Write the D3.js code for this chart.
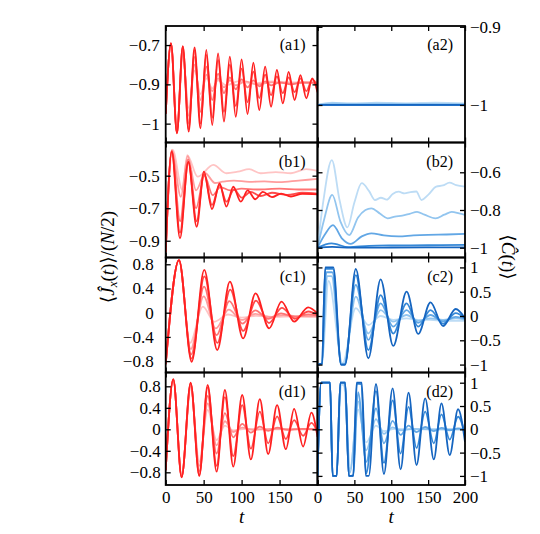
<!DOCTYPE html>
<html>
<head>
<meta charset="utf-8">
<script src="https://d3js.org/d3.v7.min.js"></script>
<style>
  body { margin: 0; background: #fff; }
</style>
</head>
<body>
<svg id="chart" width="540" height="534"></svg>
<script>
const serif = "'Liberation Serif', 'DejaVu Serif', serif";

// time axis
const timeDomain = [0, 200];
const timeTicks = [0, 50, 100, 150, 200];
const leftTimeLabels = ["0", "50", "100", "150", ""];
const rightTimeLabels = ["0", "50", "100", "150", "200"];

// y ticks per panel
const a1Ticks = [-0.7, -0.9, -1.1];
const a1TickLabels = ["\u22120.7", "\u22120.9", "\u22121"];
const a2Ticks = [-0.9, -1];
const a2TickLabels = ["\u22120.9", "\u22121"];
const b1Ticks = [-0.5, -0.7, -0.9];
const b1TickLabels = ["\u22120.5", "\u22120.7", "\u22120.9"];
const b2Ticks = [-0.6, -0.8, -1];
const b2TickLabels = ["\u22120.6", "\u22120.8", "\u22121"];
const jTicks = [0.8, 0.4, 0, -0.4, -0.8];
const jTickLabels = ["0.8", "0.4", "0", "\u22120.4", "\u22120.8"];
const cTicks = [1, 0.5, 0, -0.5, -1];
const cTickLabels = ["1", "0.5", "0", "\u22120.5", "\u22121"];

// curves, lightest first, darkest last; points are [t, value]
const a1Curves = [
  [[0,-1.05],[7,-0.691],[14.8,-1.13],[22.5,-0.75],[30.3,-1.02],[38,-0.83],[45.8,-0.95],[53.5,-0.87],[61.3,-0.92],[69,-0.88],[80,-0.905],[95,-0.885],[115,-0.895],[140,-0.885],[170,-0.89],[200,-0.885]],
  [[0,-1.05],[7,-0.691],[14.8,-1.14],[22.5,-0.73],[30.3,-1.06],[38,-0.8],[45.8,-0.98],[53.5,-0.85],[61.3,-0.935],[69,-0.87],[76.8,-0.915],[84.5,-0.88],[92.3,-0.905],[105,-0.885],[120,-0.9],[140,-0.89],[165,-0.895],[200,-0.89]],
  [[0,-1.05],[7,-0.691],[14.8,-1.145],[22.5,-0.715],[30.3,-1.1],[38,-0.76],[45.8,-1.04],[53.5,-0.81],[61.3,-0.98],[69,-0.845],[76.8,-0.945],[84.5,-0.865],[92.3,-0.925],[100,-0.875],[107.8,-0.915],[115.5,-0.88],[123.3,-0.91],[131,-0.885],[138.8,-0.905],[150,-0.89],[165,-0.9],[180,-0.89],[200,-0.895]],
  [[0,-1.05],[7,-0.691],[14.8,-1.149],[22.5,-0.707],[30.3,-1.13],[38,-0.725],[45.8,-1.1],[53.5,-0.75],[61.3,-1.07],[69,-0.775],[76.8,-1.04],[84.5,-0.8],[92.3,-1.01],[100,-0.82],[107.8,-0.99],[115.5,-0.835],[123.3,-0.97],[131,-0.85],[138.8,-0.955],[146.5,-0.86],[154.3,-0.945],[162,-0.865],[169.8,-0.94],[177.5,-0.87],[185.3,-0.935],[193,-0.875],[200,-0.91]],
  [[0,-1.05],[7,-0.691],[14.8,-1.149],[22.5,-0.705],[30.3,-1.141],[38,-0.712],[45.8,-1.124],[53.5,-0.725],[61.3,-1.107],[69,-0.742],[76.8,-1.09],[84.5,-0.759],[92.3,-1.065],[100,-0.773],[107.8,-1.051],[115.5,-0.79],[123.3,-1.031],[131,-0.81],[138.8,-1.014],[146.5,-0.827],[154.3,-0.997],[162,-0.836],[169.8,-0.98],[177.5,-0.853],[185.3,-0.971],[193,-0.87],[200,-0.94]]
];

const a2Curves = [
  [[0,-1],[20,-0.997],[45,-0.999],[80,-0.997],[120,-0.998],[160,-0.997],[200,-0.998]],
  [[0,-1],[20,-0.998],[200,-0.999]],
  [[0,-1],[200,-1]],
  [[0,-1],[200,-1]],
  [[0,-1],[200,-1]]
];

const b1Curves = [
  [[0,-0.97],[9,-0.34],[22,-0.588],[28.4,-0.373],[42,-0.506],[62.7,-0.434],[80,-0.485],[95,-0.475],[110,-0.46],[125,-0.485],[145,-0.478],[165,-0.485],[185,-0.46],[200,-0.47]],
  [[0,-0.97],[8,-0.345],[20,-0.63],[29,-0.38],[40,-0.59],[52,-0.485],[65,-0.545],[75,-0.537],[90,-0.53],[110,-0.538],[130,-0.535],[150,-0.54],[175,-0.53],[200,-0.52]],
  [[0,-0.97],[8,-0.345],[19,-0.78],[29.5,-0.4],[40,-0.7],[51,-0.5],[62,-0.62],[72,-0.57],[85,-0.59],[100,-0.58],[120,-0.585],[150,-0.58],[175,-0.585],[200,-0.585]],
  [[0,-0.97],[8,-0.35],[18.8,-0.85],[29.8,-0.42],[40.8,-0.78],[50.4,-0.49],[61,-0.68],[71,-0.56],[80,-0.66],[90,-0.585],[100,-0.635],[112,-0.6],[125,-0.625],[140,-0.605],[160,-0.618],[180,-0.605],[200,-0.61]],
  [[0,-0.97],[8,-0.352],[18.8,-0.885],[29.8,-0.414],[40.8,-0.814],[50.4,-0.475],[61,-0.705],[71,-0.548],[80,-0.69],[89,-0.568],[99,-0.66],[108,-0.59],[118,-0.645],[128,-0.6],[140,-0.632],[152,-0.61],[165,-0.628],[180,-0.612],[200,-0.615]]
];

const b2Curves = [
  [[0,-1],[8,-0.75],[19.4,-0.535],[30,-0.75],[40.6,-0.892],[50,-0.76],[60,-0.658],[70,-0.7],[78,-0.747],[86,-0.735],[94,-0.745],[102,-0.715],[110,-0.703],[118,-0.712],[126,-0.705],[134,-0.702],[141,-0.747],[150,-0.72],[161,-0.676],[170,-0.67],[179,-0.655],[188,-0.668],[200,-0.676]],
  [[0,-1],[9,-0.85],[20,-0.72],[31,-0.86],[43,-0.933],[55,-0.84],[65,-0.8],[73,-0.791],[85,-0.82],[95,-0.844],[105,-0.835],[115,-0.83],[125,-0.82],[135,-0.81],[145,-0.825],[160,-0.844],[172,-0.825],[182,-0.81],[192,-0.818],[200,-0.826]],
  [[0,-1],[10,-0.93],[21,-0.88],[33,-0.95],[45,-0.98],[60,-0.94],[73,-0.924],[90,-0.935],[110,-0.94],[130,-0.935],[150,-0.932],[175,-0.93],[200,-0.927]],
  [[0,-1],[19,-0.977],[42,-0.997],[70,-0.99],[100,-0.988],[150,-0.987],[200,-0.985]],
  [[0,-1],[20,-0.996],[45,-1],[100,-0.999],[200,-0.998]]
];

const c1Curves = [
  [[0,-0.85],[17.5,0.87],[32,-0.5],[49,0.1],[64,-0.15],[82,-0.03],[100,-0.08],[120,-0.05],[145,-0.07],[170,-0.06],[200,-0.07]],
  [[0,-0.85],[17.5,0.87],[33,-0.6],[50,0.27],[66,-0.26],[83,0.05],[100,-0.12],[118,-0.02],[136,-0.07],[155,-0.04],[175,-0.06],[200,-0.06]],
  [[0,-0.85],[17.5,0.87],[33.5,-0.69],[50.5,0.43],[67,-0.37],[84,0.19],[101,-0.18],[118,0.04],[135,-0.1],[152,-0.01],[170,-0.07],[188,-0.03],[200,-0.05]],
  [[0,-0.85],[17.5,0.87],[34,-0.76],[51,0.6],[68,-0.5],[85,0.38],[102,-0.3],[119,0.2],[136,-0.17],[153,0.08],[170,-0.1],[188,0.02],[200,-0.04]],
  [[0,-0.85],[17.5,0.87],[34.2,-0.81],[50.8,0.706],[67.9,-0.617],[84.6,0.512],[102,-0.424],[118.4,0.32],[136.3,-0.258],[152.6,0.182],[169.2,-0.149],[187.6,0.089],[200,-0.01]]
];

const c2Curves = [
  [[0,-1],[6,-0.98],[15,0.72],[34,-0.97],[51.9,0.16],[69,-0.185],[85.6,0],[102.7,-0.08],[120.8,-0.05],[136.5,-0.08],[153.2,-0.08],[170.3,-0.1],[187.4,-0.1],[200,-0.1]],
  [[0,-1],[6,-0.98],[13,0.82],[19,0.82],[33,-0.99],[36,-0.99],[51.9,0.4],[69,-0.36],[85.6,0.12],[102.7,-0.117],[120.8,0.02],[136.5,-0.1],[153.2,-0.05],[170.3,-0.08],[187.4,-0.05],[200,-0.08]],
  [[0,-1],[6,-0.98],[12,0.9],[20,0.9],[32.5,-1],[36.5,-1],[51.9,0.64],[69,-0.49],[85.6,0.26],[102.7,-0.22],[120.8,0.12],[136.5,-0.14],[153.2,0.02],[170.3,-0.11],[187.4,-0.02],[200,-0.06]],
  [[0,-1],[6,-0.98],[10.5,0.97],[21,0.97],[32,-1],[37,-1],[51.9,0.84],[69,-0.7],[85.6,0.43],[102.7,-0.36],[120.8,0.26],[136.5,-0.22],[153.2,0.12],[170.3,-0.16],[187.4,0.06],[200,-0.05]],
  [[0,-1],[6,-0.98],[10.5,1],[21.5,1],[32,-1],[37.4,-1],[51.9,0.967],[69,-0.87],[85.6,0.755],[102.7,-0.617],[120.8,0.5],[136.5,-0.37],[153.2,0.28],[170.3,-0.206],[187.4,0.144],[200,-0.05]]
];

const d1Curves = [
  [[0,-0.76],[10,0.93],[21,-0.86],[32.9,0.76],[44.2,-0.6],[55.3,0.36],[67.1,-0.2],[78,0.07],[89,-0.02],[105,0.01],[140,0],[200,0]],
  [[0,-0.76],[10,0.93],[21,-0.87],[32.9,0.8],[44.2,-0.68],[55.3,0.48],[67.1,-0.3],[78,0.15],[89,-0.05],[100.8,0.03],[115,-0.01],[140,0.01],[200,0]],
  [[0,-0.76],[10,0.93],[21,-0.88],[32.9,0.84],[44.2,-0.78],[55.3,0.62],[67.1,-0.45],[78,0.3],[89,-0.15],[100.8,0.1],[112.2,-0.06],[124,0.05],[135,-0.03],[146.8,0.03],[160,-0.01],[180,0.01],[200,0]],
  [[0,-0.76],[10,0.93],[21,-0.89],[32.9,0.86],[44.2,-0.85],[55.3,0.78],[67.1,-0.68],[78,0.6],[89,-0.5],[100.8,0.45],[112.2,-0.36],[124,0.33],[135,-0.26],[146.8,0.24],[158.3,-0.18],[169.2,0.17],[181,-0.12],[192,0.12],[200,-0.05]],
  [[0,-0.76],[10,0.93],[21,-0.893],[32.9,0.867],[44.2,-0.869],[55.3,0.824],[67.1,-0.789],[78,0.731],[89,-0.695],[100.8,0.638],[112.2,-0.56],[124,0.56],[135,-0.46],[146.8,0.45],[158.3,-0.37],[169.2,0.38],[181,-0.32],[192,0.31],[200,-0.14]]
];

const d2Curves = [
  [[0,-1],[5,1],[17,1],[20.5,-1],[26,-1],[32,0.97],[36,0.93],[44,-0.85],[55,0.42],[66,-0.28],[79.3,0.08],[90.1,-0.04],[105,0.01],[140,0],[200,0]],
  [[0,-1],[5,1],[17,1],[20.5,-1],[26,-1],[31,1],[37,0.97],[44,-0.93],[55,0.6],[66,-0.45],[79.3,0.22],[90.1,-0.1],[101.8,0.04],[112.7,-0.02],[130,0.01],[160,0],[200,0]],
  [[0,-1],[5,1],[17,1],[20.5,-1],[26,-1],[31,1],[37.5,1],[42.5,-1],[48.5,-0.98],[55,0.8],[66,-0.7],[79.3,0.45],[90.1,-0.3],[101.8,0.18],[112.7,-0.12],[123.5,0.08],[134.3,-0.06],[146,0.05],[157.7,-0.04],[168.1,0.03],[179.3,-0.02],[190.6,0.02],[200,0]],
  [[0,-1],[5,1],[17,1],[20.5,-1],[26,-1],[31,1],[37.5,1],[42.5,-1],[48.5,-1],[53.5,0.98],[59,0.97],[66,-0.95],[79.3,0.82],[90.1,-0.72],[101.8,0.62],[112.7,-0.52],[123.5,0.48],[134.3,-0.4],[146,0.38],[157.7,-0.3],[168.1,0.32],[179.3,-0.22],[190.6,0.27],[200,-0.1]],
  [[0,-1],[5,1],[17,1],[20.5,-1],[26,-1],[31,1],[37.5,1],[42.5,-1],[48.5,-1],[53,1],[60,1],[65.5,-1],[69.5,-1],[79.3,0.972],[90.1,-0.96],[101.8,0.88],[112.7,-0.858],[123.5,0.785],[134.3,-0.766],[146,0.665],[157.7,-0.644],[168.1,0.558],[179.3,-0.551],[190.6,0.43],[200,-0.27]]
];

const redShades = ["#ffc4c4", "#ff9d9d", "#ff7474", "#ff4a4a", "#ff2020"];
const blueShades = ["#bddcf5", "#92c5ef", "#62a7e5", "#3588d7", "#1565c0"];

// layout
const colX = [[165.7, 317.5], [317.5, 465]];
const rowY = [26, 142.5, 257.5, 372.5, 485];

const panels = [
  {tag: "(a1)", col: 0, row: 0, domain: [-1.196, -0.603], ticks: a1Ticks, labels: a1TickLabels, curves: a1Curves, colors: redShades, pad: 6},
  {tag: "(a2)", col: 1, row: 0, domain: [-1.048, -0.899], ticks: a2Ticks, labels: a2TickLabels, curves: a2Curves, colors: blueShades, pad: 5},
  {tag: "(b1)", col: 0, row: 1, domain: [-1.003, -0.296], ticks: b1Ticks, labels: b1TickLabels, curves: b1Curves, colors: redShades, pad: 6},
  {tag: "(b2)", col: 1, row: 1, domain: [-1.052, -0.442], ticks: b2Ticks, labels: b2TickLabels, curves: b2Curves, colors: blueShades, pad: 5},
  {tag: "(c1)", col: 0, row: 2, domain: [-0.988, 0.912], ticks: jTicks, labels: jTickLabels, curves: c1Curves, colors: redShades, pad: 12},
  {tag: "(c2)", col: 1, row: 2, domain: [-1.163, 1.204], ticks: cTicks, labels: cTickLabels, curves: c2Curves, colors: blueShades, pad: 5},
  {tag: "(d1)", col: 0, row: 3, domain: [-1.036, 1.057], ticks: jTicks, labels: jTickLabels, curves: d1Curves, colors: redShades, pad: 5},
  {tag: "(d2)", col: 1, row: 3, domain: [-1.195, 1.219], ticks: cTicks, labels: cTickLabels, curves: d2Curves, colors: blueShades, pad: 5}
];

const svg = d3.select("#chart");

panels.forEach((p, k) => {
  const [x0, x1] = colX[p.col], y0 = rowY[p.row], y1 = rowY[p.row + 1];
  const w = x1 - x0, h = y1 - y0;
  const x = d3.scaleLinear().domain(timeDomain).range([0, w]);
  const y = d3.scaleLinear().domain(p.domain).range([h, 0]);

  const g = svg.append("g").attr("transform", `translate(${x0},${y0})`);

  g.append("clipPath").attr("id", "clip" + k)
    .append("rect").attr("width", w).attr("height", h);

  const line = d3.line()
      .x(d => x(d[0]))
      .y(d => y(d[1]))
      .curve(d3.curveMonotoneX);

  g.append("g").attr("clip-path", `url(#clip${k})`)
    .selectAll("path")
    .data(p.curves)
    .join("path")
      .attr("d", line)
      .attr("fill", "none")
      .attr("stroke", (d, i) => p.colors[i])
      .attr("stroke-width", 1.8)
      .attr("stroke-linejoin", "round");

  const timeLabels = p.col === 0 ? leftTimeLabels : rightTimeLabels;
  const yLabel = (d, i) => p.labels[i];

  g.append("g")
      .attr("transform", `translate(0,${h})`)
      .call(d3.axisBottom(x).tickValues(timeTicks).tickSize(-5).tickPadding(6)
        .tickFormat((d, i) => p.row === 3 ? timeLabels[i] : ""));
  g.append("g")
      .call(d3.axisTop(x).tickValues(timeTicks).tickSize(-5).tickFormat(""));
  g.append("g")
      .call(d3.axisLeft(y).tickValues(p.ticks).tickSize(-5).tickPadding(p.pad)
        .tickFormat(p.col === 0 ? yLabel : ""));
  g.append("g")
      .attr("transform", `translate(${w},0)`)
      .call(d3.axisRight(y).tickValues(p.ticks).tickSize(-5).tickPadding(p.pad)
        .tickFormat(p.col === 1 ? yLabel : ""));

  g.selectAll(".domain").remove();
  g.selectAll(".tick line").attr("stroke", "#000").attr("stroke-width", 1.3);
  g.selectAll(".tick").attr("font-family", serif);
  g.selectAll(".tick text")
      .attr("font-family", serif)
      .attr("font-size", 17);

  g.append("rect")
      .attr("width", w)
      .attr("height", h)
      .attr("fill", "none")
      .attr("stroke", "#000")
      .attr("stroke-width", 1.8);

  g.append("text")
      .attr("x", w - 12)
      .attr("y", 24)
      .attr("text-anchor", "end")
      .attr("font-family", serif)
      .attr("font-size", 16)
      .text(p.tag);
});

// axis titles
const yTitle = svg.append("text")
    .attr("transform", "translate(114,257) rotate(-90)")
    .attr("text-anchor", "middle")
    .attr("font-family", serif)
    .attr("font-size", 19);
yTitle.append("tspan").text("\u27e8");
yTitle.append("tspan").attr("font-style", "italic").text("\u0134");
yTitle.append("tspan").attr("font-style", "italic").attr("font-size", 13).attr("dy", 3).text("x");
yTitle.append("tspan").attr("dy", -3).text("(");
yTitle.append("tspan").attr("font-style", "italic").text("t");
yTitle.append("tspan").text(")\u27e9/(");
yTitle.append("tspan").attr("font-style", "italic").text("N");
yTitle.append("tspan").text("/2)");

const cTitle = svg.append("text")
    .attr("transform", "translate(502,257) rotate(90)")
    .attr("text-anchor", "middle")
    .attr("font-family", serif)
    .attr("font-size", 19);
cTitle.append("tspan").text("\u27e8");
cTitle.append("tspan").attr("font-style", "italic").text("\u0108");
cTitle.append("tspan").text("(");
cTitle.append("tspan").attr("font-style", "italic").text("t");
cTitle.append("tspan").text(")\u27e9");

svg.selectAll(".tlabel")
  .data(colX)
  .join("text")
    .attr("class", "tlabel")
    .attr("x", d => (d[0] + d[1]) / 2)
    .attr("y", 523)
    .attr("text-anchor", "middle")
    .attr("font-family", serif)
    .attr("font-size", 19)
    .attr("font-style", "italic")
    .text("t");
</script>
</body>
</html>
